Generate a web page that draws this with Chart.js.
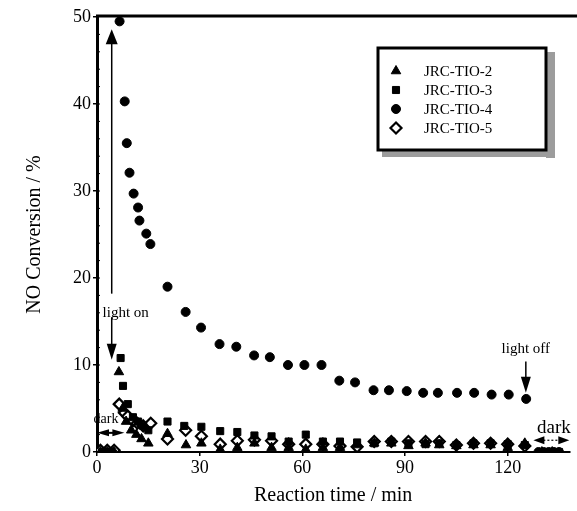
<!DOCTYPE html>
<html>
<head>
<meta charset="utf-8">
<script src="https://cdn.jsdelivr.net/npm/chart.js@4.4.0/dist/chart.umd.min.js"></script>
<style>
  html, body { margin: 0; padding: 0; background: #fff; }
  #wrap { width: 577px; height: 511px; }
</style>
</head>
<body>
<div id="wrap"><canvas id="chart" width="577" height="511"></canvas></div>
<script>
// reading times (min) and NO conversion (%) for each catalyst
const tio2Time = [1, 3, 5, 6.4, 7.5, 8.5, 10, 11.5, 13, 15, 20.6, 26, 30.5, 36, 41, 46, 51, 56, 61, 66, 71, 76, 81, 86, 91, 96, 100, 105, 110, 115, 120, 125, 130, 133];
const tio2Vals = [0, 0, 0, 9.2, 5.0, 3.5, 2.5, 2.0, 1.5, 1.0, 2.1, 0.8, 1.0, 0.3, 0.5, 1.0, 0.5, 0.5, 0.3, 0.5, 0.5, 0.8, 1.0, 1.0, 0.7, 1.0, 0.8, 0.7, 0.8, 0.8, 0.5, 1.0, 0, 0];

const tio3Time = [1.5, 3.5, 6.9, 7.6, 9, 10.5, 12, 13.5, 15, 20.6, 25.5, 30.5, 36, 41, 46, 51, 56, 61, 66, 71, 76, 81, 86, 91, 96, 100, 105, 110, 115, 120, 125, 131, 135];
const tio3Vals = [0, 0, 10.8, 7.6, 5.5, 4.0, 3.5, 3.0, 2.5, 3.5, 3.0, 2.9, 2.4, 2.3, 1.9, 1.8, 1.2, 2.0, 1.2, 1.2, 1.1, 1.0, 1.2, 1.0, 0.9, 1.0, 0.8, 1.0, 1.0, 0.9, 0.8, 0, 0];

const tio4Time = [2, 4, 6.6, 8.1, 8.7, 9.5, 10.7, 12.0, 12.4, 14.4, 15.6, 20.6, 25.9, 30.4, 35.8, 40.7, 45.9, 50.5, 55.8, 60.6, 65.6, 70.8, 75.4, 80.8, 85.3, 90.5, 95.3, 99.6, 105.2, 110.2, 115.3, 120.3, 125.4, 129, 130.5, 132, 133.5, 135];
const tio4Vals = [0, 0, 49.5, 40.3, 35.5, 32.1, 29.7, 28.1, 26.6, 25.1, 23.9, 19.0, 16.1, 14.3, 12.4, 12.1, 11.1, 10.9, 10.0, 10.0, 10.0, 8.2, 8.0, 7.1, 7.1, 7.0, 6.8, 6.8, 6.8, 6.8, 6.6, 6.6, 6.1, 0, 0, 0, 0, 0];

const tio5Time = [1, 3, 5, 6.5, 8, 9, 10.5, 11.8, 13.5, 15.7, 20.6, 25.9, 30.5, 36, 41, 46, 51, 56, 61, 66, 71, 76, 81, 86, 91, 96, 100, 105, 110, 115, 120, 125];
const tio5Vals = [0.2, 0.2, 0.2, 5.5, 4.5, 4.1, 3.6, 3.3, 3.0, 3.3, 1.5, 2.5, 1.8, 0.9, 1.3, 1.4, 1.3, 0.9, 0.9, 0.9, 0.7, 0.6, 1.2, 1.2, 1.2, 1.2, 1.2, 0.8, 1.0, 1.0, 0.9, 0.7];

const seriesNames = ['JRC-TIO-2', 'JRC-TIO-3', 'JRC-TIO-4', 'JRC-TIO-5'];
const xTicks = [0, 30, 60, 90, 120];
const yTicks = [0, 10, 20, 30, 40, 50];

const serif = '"Liberation Serif", "DejaVu Serif", serif';

function pts(ts, vs) {
  return ts.map((t, i) => ({ x: t, y: vs[i] }));
}

const styles = [
  { pointStyle: 'triangle', radius: 5.5, bg: '#000', border: '#000', bw: 1 },
  { pointStyle: 'rect', radius: 5, bg: '#000', border: '#000', bw: 1 },
  { pointStyle: 'circle', radius: 4.5, bg: '#000', border: '#000', bw: 1 },
  { pointStyle: 'rectRot', radius: 5.5, bg: '#fff', border: '#000', bw: 2.2 },
];

const datasets = [
  pts(tio2Time, tio2Vals),
  pts(tio3Time, tio3Vals),
  pts(tio4Time, tio4Vals),
  pts(tio5Time, tio5Vals),
].map((d, i) => ({
  label: seriesNames[i],
  data: d,
  showLine: false,
  pointStyle: styles[i].pointStyle,
  pointRadius: styles[i].radius,
  pointBackgroundColor: styles[i].bg,
  pointBorderColor: styles[i].border,
  pointBorderWidth: styles[i].bw,
}));

function arrowHead(ctx, x, y, dir, w, h) {
  // dir: 1 = pointing down, -1 = pointing up, 'l' / 'r' horizontal
  ctx.beginPath();
  if (dir === 'l' || dir === 'r') {
    const s = dir === 'l' ? 1 : -1;
    ctx.moveTo(x, y);
    ctx.lineTo(x + s * h, y - w / 2);
    ctx.lineTo(x + s * h, y + w / 2);
  } else {
    ctx.moveTo(x, y);
    ctx.lineTo(x - w / 2, y - dir * h);
    ctx.lineTo(x + w / 2, y - dir * h);
  }
  ctx.closePath();
  ctx.fill();
}

const decor = {
  id: 'decor',
  afterDraw(chart) {
    const ctx = chart.ctx;
    const xs = chart.scales.x, ys = chart.scales.y;
    const a = chart.chartArea;
    ctx.save();
    ctx.fillStyle = '#000';
    ctx.strokeStyle = '#000';

    // top frame line
    ctx.lineWidth = 3;
    ctx.beginPath();
    ctx.moveTo(a.left - 1, a.top - 1);
    ctx.lineTo(chart.width, a.top - 1);
    ctx.stroke();

    // small minor ticks inside the left axis
    ctx.lineWidth = 1;
    for (let v = 2; v < 50; v += 2) {
      const y = ys.getPixelForValue(v);
      ctx.beginPath();
      ctx.moveTo(a.left, y);
      ctx.lineTo(a.left + 3, y);
      ctx.stroke();
    }

    // light on arrow
    const xOn = xs.getPixelForValue(4.3);
    ctx.lineWidth = 1.5;
    ctx.beginPath();
    ctx.moveTo(xOn, ys.getPixelForValue(18.2));
    ctx.lineTo(xOn, ys.getPixelForValue(47));
    ctx.stroke();
    arrowHead(ctx, xOn, ys.getPixelForValue(48.6), -1, 12, 15);
    ctx.beginPath();
    ctx.moveTo(xOn, ys.getPixelForValue(15.5));
    ctx.lineTo(xOn, ys.getPixelForValue(12));
    ctx.stroke();
    arrowHead(ctx, xOn, ys.getPixelForValue(10.6), 1, 10, 16);

    ctx.font = '15px ' + serif;
    ctx.textAlign = 'center';
    ctx.textBaseline = 'middle';
    ctx.fillText('light on', xOn + 14, ys.getPixelForValue(16.0));

    // light off arrow
    const xOff = xs.getPixelForValue(125.3);
    ctx.fillText('light off', xOff, ys.getPixelForValue(11.8));
    ctx.beginPath();
    ctx.moveTo(xOff, ys.getPixelForValue(10.4));
    ctx.lineTo(xOff, ys.getPixelForValue(8));
    ctx.stroke();
    arrowHead(ctx, xOff, ys.getPixelForValue(6.8), 1, 10, 16);

    // dark (start)
    ctx.font = '14px ' + serif;
    ctx.textAlign = 'left';
    ctx.fillText('dark', xs.getPixelForValue(-1), ys.getPixelForValue(3.8));
    const yd = ys.getPixelForValue(2.2);
    const x0 = xs.getPixelForValue(0), x1 = xs.getPixelForValue(8);
    ctx.lineWidth = 2;
    ctx.beginPath();
    ctx.moveTo(x0 + 6, yd);
    ctx.lineTo(x1 - 6, yd);
    ctx.stroke();
    arrowHead(ctx, x0, yd, 'l', 7, 12);
    arrowHead(ctx, x1, yd, 'r', 7, 12);

    // dark (end)
    ctx.font = '19px ' + serif;
    ctx.textAlign = 'center';
    ctx.fillText('dark', xs.getPixelForValue(133.5), ys.getPixelForValue(2.7));
    const yd2 = ys.getPixelForValue(1.35);
    const x2 = xs.getPixelForValue(127.5), x3 = xs.getPixelForValue(138);
    ctx.lineWidth = 1.2;
    ctx.setLineDash([2, 2]);
    ctx.beginPath();
    ctx.moveTo(x2 + 10, yd2);
    ctx.lineTo(x3 - 10, yd2);
    ctx.stroke();
    ctx.setLineDash([]);
    arrowHead(ctx, x2, yd2, 'l', 8, 11);
    arrowHead(ctx, x3, yd2, 'r', 8, 11);

    // legend box with shadow
    const lx = 378, ly = 48, lw = 168, lh = 102;
    ctx.fillStyle = '#9c9c9c';
    ctx.fillRect(lx + lw, ly + 4, 9, lh + 4);
    ctx.fillRect(lx + 4, ly + lh, lw + 5, 7);
    ctx.fillStyle = '#fff';
    ctx.fillRect(lx, ly, lw, lh);
    ctx.lineWidth = 3;
    ctx.strokeStyle = '#000';
    ctx.strokeRect(lx, ly, lw, lh);
    ctx.font = '15px ' + serif;
    ctx.textAlign = 'left';
    chart.data.datasets.forEach((ds, i) => {
      const ry = 71 + i * 19;
      ctx.fillStyle = ds.pointBackgroundColor;
      ctx.strokeStyle = ds.pointBorderColor;
      ctx.lineWidth = ds.pointBorderWidth;
      Chart.helpers.drawPoint(ctx, {
        pointStyle: ds.pointStyle,
        radius: ds.pointRadius,
        rotation: 0,
        borderWidth: ds.pointBorderWidth,
      }, 396, ry);
      ctx.fillStyle = '#000';
      ctx.fillText(ds.label, 424, ry + 1);
    });
    ctx.restore();
  },
};

new Chart(document.getElementById('chart'), {
  type: 'scatter',
  data: { datasets },
  options: {
    responsive: false,
    animation: false,
    layout: { padding: { top: 17, right: 2, left: 0, bottom: 0 } },
    plugins: {
      legend: { display: false },
      tooltip: { enabled: false },
    },
    scales: {
      x: {
        type: 'linear',
        min: 0,
        max: 138,
        afterFit: (s) => { s.height = 59; },
        afterBuildTicks: (s) => { s.ticks = xTicks.map((v) => ({ value: v })); },
        ticks: {
          color: '#000',
          font: { family: serif, size: 18 },
          padding: 1,
        },
        grid: { drawOnChartArea: false, tickLength: 4, color: '#000', lineWidth: 1.5 },
        border: { color: '#000', width: 2 },
        title: {
          display: true,
          text: 'Reaction time / min',
          color: '#000',
          font: { family: serif, size: 20 },
          padding: { top: 0, bottom: 3 },
        },
      },
      y: {
        type: 'linear',
        min: 0,
        max: 50,
        afterFit: (s) => { s.width = 97; },
        afterBuildTicks: (s) => { s.ticks = yTicks.map((v) => ({ value: v })); },
        ticks: {
          color: '#000',
          font: { family: serif, size: 18 },
          padding: 2,
        },
        grid: { drawOnChartArea: false, tickLength: 4, color: '#000', lineWidth: 1.5 },
        border: { color: '#000', width: 3 },
        title: {
          display: true,
          text: 'NO Conversion / %',
          color: '#000',
          font: { family: serif, size: 20 },
          padding: { top: 23, bottom: 0 },
        },
      },
    },
  },
  plugins: [decor],
});
</script>
</body>
</html>
